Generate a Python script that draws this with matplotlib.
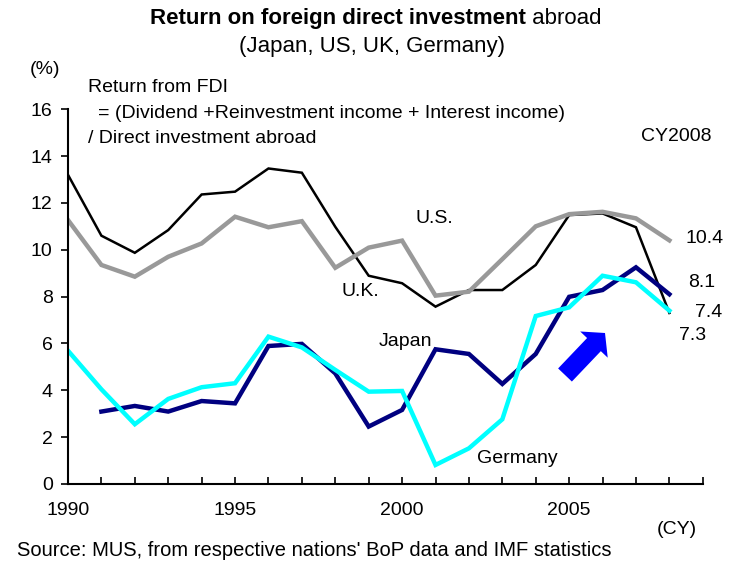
import matplotlib
matplotlib.use('Agg')
import matplotlib.pyplot as plt
from matplotlib.patches import FancyArrow

plt.rcParams['font.family'] = ['Liberation Sans', 'DejaVu Sans']

years = list(range(1990, 2009))
uk = [13.2, 10.6, 9.87, 10.84, 12.36, 12.48, 13.47, 13.29, 10.98, 8.89,
      8.57, 7.57, 8.28, 8.28, 9.35, 11.48, 11.55, 10.96, 7.3]
us = [11.27, 9.35, 8.85, 9.7, 10.27, 11.41, 10.96, 11.22, 9.23, 10.09,
      10.39, 8.04, 8.21, 9.6, 11.0, 11.52, 11.62, 11.34, 10.4]
japan_years = list(range(1991, 2009))
japan = [3.09, 3.33, 3.09, 3.54, 3.44, 5.89, 5.98, 4.72, 2.45,
         3.16, 5.75, 5.55, 4.27, 5.55, 7.99, 8.28, 9.25, 8.1]
germany = [5.69, 4.04, 2.55, 3.63, 4.13, 4.3, 6.29, 5.83, 4.87, 3.94,
           3.97, 0.81, 1.52, 2.76, 7.17, 7.54, 8.89, 8.61, 7.4]

end_labels = ['10.4', '8.1', '7.4', '7.3']

fig = plt.figure(figsize=(7.39, 5.66), dpi=100)
ax = fig.add_axes([0.092, 0.145, 0.859, 0.662])

ax.plot(years, uk, color='black', lw=1.8, solid_joinstyle='miter')
ax.plot(years, us, color='#999999', lw=3.2, solid_joinstyle='miter')
ax.plot(japan_years, japan, color='#000080', lw=3.2, solid_joinstyle='miter')
ax.plot(years, germany, color='#00FFFF', lw=3.2, solid_joinstyle='miter')

ax.set_xlim(1990, 2009)
ax.set_ylim(0, 16)
ax.spines['top'].set_visible(False)
ax.spines['right'].set_visible(False)
ax.spines['left'].set_linewidth(1.5)
ax.spines['bottom'].set_linewidth(1.5)
ax.set_yticks(range(0, 17, 2))
ax.set_xticks(range(1990, 2010))
ax.set_xticklabels([str(y) if y in (1990, 1995, 2000, 2005) else '' for y in range(1990, 2010)])
ax.tick_params(axis='y', direction='out', length=5, width=1.2, labelsize=14, pad=6)
ax.tick_params(axis='x', direction='in', length=5, width=1.2, labelsize=14, pad=13)

# series labels
ax.text(2000.4, 11.35, 'U.S.', fontsize=14, va='center')
ax.text(1998.2, 8.2, 'U.K.', fontsize=14, va='center')
ax.text(1999.3, 6.1, 'Japan', fontsize=14, va='center')
ax.text(2002.25, 1.07, 'Germany', fontsize=14, va='center')
ax.text(2008.47, 10.46, end_labels[0], fontsize=14, va='center')
ax.text(2008.56, 8.62, end_labels[1], fontsize=14, va='center')
ax.text(2008.77, 7.34, end_labels[2], fontsize=14, va='center')
ax.text(2008.29, 6.32, end_labels[3], fontsize=14, va='center')

# upward arrow (drawn in inches so it keeps its shape)
fig.patches.append(FancyArrow(5.65, 1.91, 0.40, 0.42, width=0.19, head_width=0.38,
                              head_length=0.16, length_includes_head=True,
                              color='#0000FF', lw=0, transform=fig.dpi_scale_trans,
                              figure=fig))

fig.text(0.712, 0.967, 'Return on foreign direct investment', fontsize=16,
         fontweight='bold', ha='right', va='center')
fig.text(0.712, 0.967, ' abroad', fontsize=16, ha='left', va='center')
fig.text(0.503, 0.917, '(Japan, US, UK, Germany)', fontsize=16,
         ha='center', va='center')
fig.text(0.040, 0.878, '(%)', fontsize=14, va='center')
fig.text(0.119, 0.846, 'Return from FDI', fontsize=14, va='center')
fig.text(0.133, 0.800, '= (Dividend +Reinvestment income + Interest income)',
         fontsize=14, va='center')
fig.text(0.119, 0.756, '/ Direct investment abroad', fontsize=14, va='center')
fig.text(0.868, 0.758, 'CY2008', fontsize=14, va='center')
fig.text(0.889, 0.064, '(CY)', fontsize=14, va='center')
fig.text(0.023, 0.027, "Source: MUS, from respective nations' BoP data and IMF statistics",
         fontsize=14.5, va='center')

fig.savefig('out.png', dpi=100)
